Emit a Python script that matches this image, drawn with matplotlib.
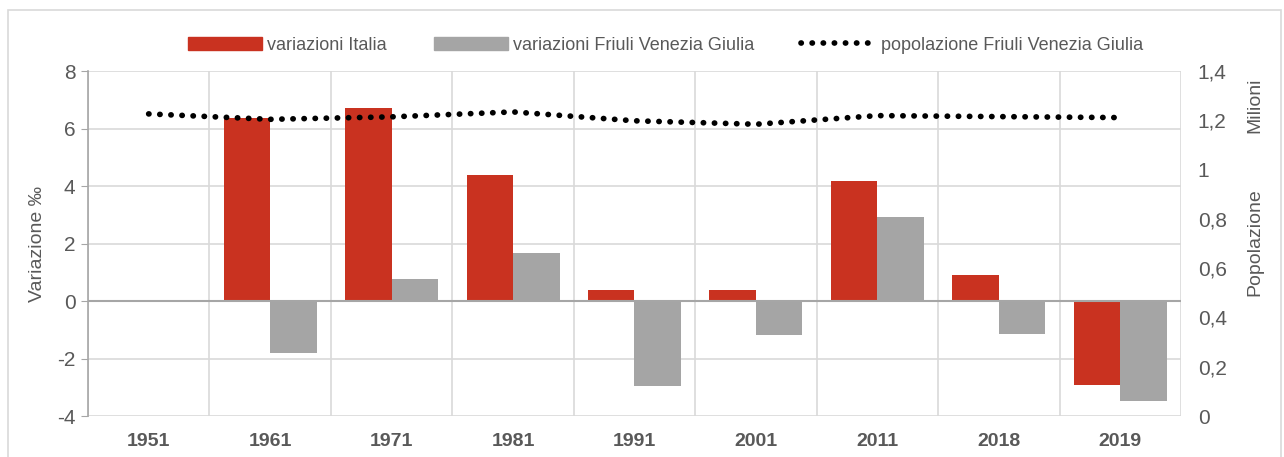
import numpy as np
import matplotlib
matplotlib.use('Agg')
import matplotlib.pyplot as plt
from matplotlib.patches import Patch, Rectangle
from matplotlib.lines import Line2D
from matplotlib.ticker import FuncFormatter

# dati
anni = ['1951', '1961', '1971', '1981', '1991', '2001', '2011', '2018', '2019']
var_italia = [np.nan, 6.35, 6.72, 4.38, 0.37, 0.37, 4.18, 0.92, -2.93]
var_fvg = [np.nan, -1.80, 0.75, 1.66, -2.97, -1.17, 2.91, -1.16, -3.47]
pop_fvg = [1.226, 1.204, 1.214, 1.234, 1.198, 1.184, 1.219, 1.215, 1.211]  # milioni

ROSSO = '#C93220'
GRIGIO = '#A5A5A5'
TESTO = '#595959'
GRIGLIA = '#D9D9D9'
plt.rcParams['font.family'] = ['Liberation Sans', 'DejaVu Sans']
plt.rcParams['axes.unicode_minus'] = False

PUNTI = (0, (0.05, 1.9))
SPESSORE = 4.1

fig = plt.figure(figsize=(12.84, 4.57), dpi=100)
ax = fig.add_axes([0.0685, 0.0897, 0.8513, 0.7549])
ax2 = ax.twinx()

x = np.arange(len(anni))
w = 0.383
ax.bar(x - w / 2, var_italia, width=w, color=ROSSO, zorder=3)
ax.bar(x + w / 2, var_fvg, width=w, color=GRIGIO, zorder=3)
ax.axhline(0, color='#A6A6A6', linewidth=1.5, zorder=4)

ax.set_xlim(-0.5, len(anni) - 0.5)
ax.set_ylim(-4, 8)
ax.set_yticks(np.arange(-4, 9, 2))
ax.set_xticks(x)
ax.set_xticklabels(anni, fontweight='bold', fontsize=14, color=TESTO)
ax.set_xticks(np.arange(-0.5, len(anni), 1), minor=True)
ax.tick_params(axis='x', which='both', length=0, pad=12)
ax.tick_params(axis='y', length=5, color='#A6A6A6', labelsize=15, labelcolor=TESTO, pad=4)
ax.grid(axis='y', color=GRIGLIA, linewidth=1.2, zorder=0)
ax.grid(axis='x', which='minor', color=GRIGLIA, linewidth=1.2, zorder=0)
for s in ['top', 'right', 'bottom']:
    ax.spines[s].set_visible(False)
ax.spines['left'].set_color('#A6A6A6')
ax.spines['left'].set_linewidth(1.2)
ax.set_ylabel('Variazione ‰', fontsize=14, color=TESTO, labelpad=8)

ax2.plot(x, pop_fvg, color='black', linewidth=SPESSORE, linestyle=PUNTI,
         dash_capstyle='round', zorder=5)
ax2.set_ylim(0, 1.4)
ax2.set_yticks(np.arange(0, 1.41, 0.2))
ax2.yaxis.set_major_formatter(FuncFormatter(lambda v, p: ('%g' % round(v, 1)).replace('.', ',')))
ax2.tick_params(axis='y', length=0, labelsize=15, labelcolor=TESTO, pad=12)
for s in ax2.spines.values():
    s.set_visible(False)
fig.text(0.977, 0.47, 'Popolazione', rotation=90, ha='center', va='center',
         fontsize=14, color=TESTO)
fig.text(0.977, 0.77, 'Milioni', rotation=90, ha='center', va='center',
         fontsize=14, color=TESTO)

handles = [Patch(color=ROSSO), Patch(color=GRIGIO),
           Line2D([0], [0], color='black', linewidth=SPESSORE, linestyle=PUNTI,
                  dash_capstyle='round')]
labels = ['variazioni Italia', 'variazioni Friuli Venezia Giulia', 'popolazione Friuli Venezia Giulia']
leg = fig.legend(handles, labels, loc='center', bbox_to_anchor=(0.518, 0.9015), ncol=3,
                 frameon=False, fontsize=13, handlelength=4.1, handleheight=0.7,
                 handletextpad=0.3, columnspacing=2.6)
for t in leg.get_texts():
    t.set_color(TESTO)

# cornice del grafico
fig.patches.append(Rectangle((8 / 1284, -0.05), 1273 / 1284, 1.05 - 10 / 457,
                             transform=fig.transFigure, fill=False,
                             edgecolor=GRIGLIA, linewidth=1.2))

fig.savefig('out.png', dpi=100)
